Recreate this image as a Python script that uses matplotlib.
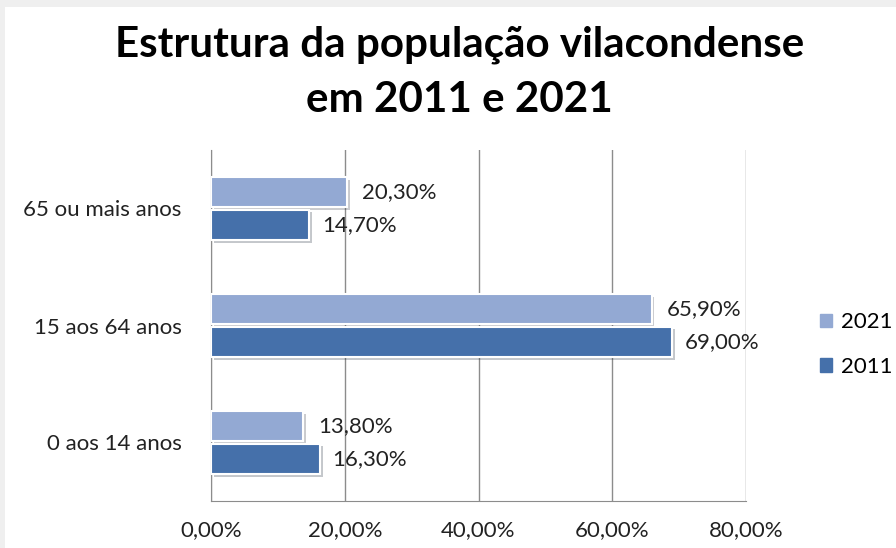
"""
Estrutura da populacao vilacondense - barras horizontais
"""

import matplotlib.pyplot as plt
import matplotlib.patheffects as pe
from matplotlib.patches import Rectangle, Patch
from matplotlib.ticker import FuncFormatter

categories = ["0 aos 14 anos", "15 aos 64 anos", "65 ou mais anos"]
values_2011 = [16.3, 69.0, 14.7]
values_2021 = [13.8, 65.9, 20.3]
labels_2011 = ["16,30%", "69,00%", "14,70%"]
labels_2021 = ["13,80%", "65,90%", "20,30%"]
xticks = [0, 20, 40, 60, 80]

plt.rcParams["font.family"] = ["Lato", "DejaVu Sans"]

c21 = "#93a9d3"
c11 = "#4570aa"
fs = 16

fig = plt.figure(figsize=(8.96, 5.48), dpi=100, facecolor="#efefef")
fig.patches.append(Rectangle((5 / 896, 0), 1, 541 / 548, transform=fig.transFigure,
                             facecolor="white", edgecolor="none", zorder=-5))

ax = fig.add_axes([211 / 896, 47 / 548, 535 / 896, 351 / 548])
ax.set_facecolor("none")

shadow = [pe.SimplePatchShadow(offset=(2, -2), alpha=0.25), pe.Normal()]
ypos = list(range(len(categories)))
h = 0.26
off = 0.14
b21 = ax.barh([y + off for y in ypos], values_2021, height=h, color=c21,
              edgecolor="white", linewidth=1.5, zorder=3)
b11 = ax.barh([y - off for y in ypos], values_2011, height=h, color=c11,
              edgecolor="white", linewidth=1.5, zorder=3)
for bars in (b21, b11):
    for p in bars:
        p.set_path_effects(shadow)

for y, v, t in zip(ypos, values_2021, labels_2021):
    ax.annotate(t, (v, y + off), xytext=(11, 0), textcoords="offset points",
                va="center", ha="left", fontsize=fs, color="#222222")
for y, v, t in zip(ypos, values_2011, labels_2011):
    ax.annotate(t, (v, y - off), xytext=(9, 0), textcoords="offset points",
                va="center", ha="left", fontsize=fs, color="#222222")

ax.set_xlim(0, 80)
ax.set_ylim(-0.5, 2.5)
ax.set_xticks(xticks)
ax.xaxis.set_major_formatter(FuncFormatter(lambda x, _: f"{x:.2f}%".replace(".", ",")))
ax.set_yticks(ypos)
ax.set_yticklabels(categories)
ax.tick_params(axis="x", length=0, pad=14, labelsize=fs, labelcolor="#222222")
ax.tick_params(axis="y", length=0, pad=21, labelsize=fs, labelcolor="#222222")
ax.grid(axis="x", color="#8c8c8c", linewidth=1, zorder=0)
ax.set_axisbelow(True)
for s in ("top", "right"):
    ax.spines[s].set_visible(False)
for s in ("left", "bottom"):
    ax.spines[s].set_color("#8c8c8c")

fig.text(0.513, 0.918, "Estrutura da população vilacondense", ha="center", va="center",
         fontsize=30.3, fontweight="bold")
fig.text(0.513, 0.818, "em 2011 e 2021", ha="center", va="center",
         fontsize=30.3, fontweight="bold")

handles = [Patch(color=c21, label="2021"), Patch(color=c11, label="2011")]
fig.legend(handles=handles, loc="center left", bbox_to_anchor=(0.915, 0.371),
           frameon=False, fontsize=fs, handlelength=0.55, handleheight=0.55,
           handletextpad=0.4, labelspacing=1.1, borderpad=0, borderaxespad=0)

fig.savefig("out.png", dpi=100, facecolor=fig.get_facecolor())
